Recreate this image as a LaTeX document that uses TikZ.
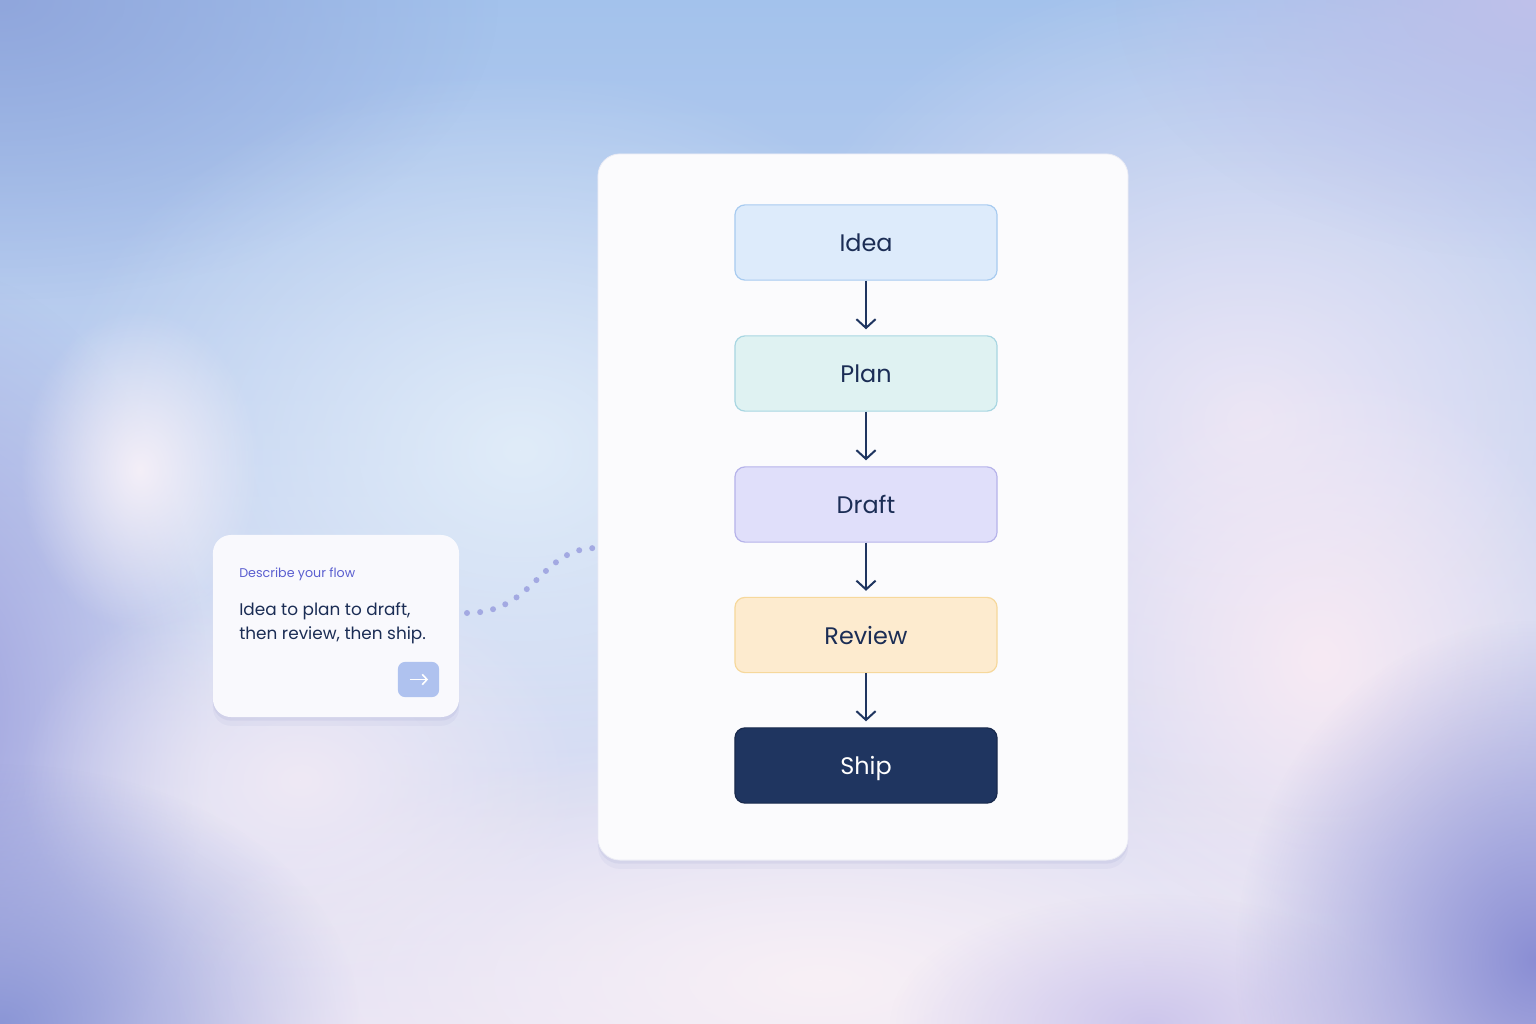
\documentclass[tikz,border=0pt]{standalone}
\usepackage{fontspec}
\setmainfont{Poppins}
\usepackage{xcolor}
\usetikzlibrary{arrows.meta, positioning, fadings}

\definecolor{ink}{HTML}{1B2D55}
\definecolor{navy}{HTML}{1F3560}
\definecolor{ideafill}{HTML}{DDEBFB}
\definecolor{idealine}{HTML}{A8CBF0}
\definecolor{planfill}{HTML}{DFF2F2}
\definecolor{planline}{HTML}{A8D6E2}
\definecolor{draftfill}{HTML}{E0DFFA}
\definecolor{draftline}{HTML}{B6B3EA}
\definecolor{reviewfill}{HTML}{FDEBCF}
\definecolor{reviewline}{HTML}{F6D89C}
\definecolor{hintcol}{HTML}{5B5FD0}
\definecolor{btnfill}{HTML}{AFC2EF}
\definecolor{dotcol}{HTML}{A3A9E2}
\definecolor{cardfill}{HTML}{F9F9FD}
\definecolor{panelfill}{HTML}{FBFBFD}
\definecolor{shadowcol}{HTML}{5A60A8}
% sky
\definecolor{skytop}{HTML}{A3C2EC}
\definecolor{skybottom}{HTML}{E6E2F4}
\definecolor{skyA}{HTML}{90A6DC}
\definecolor{skyB}{HTML}{BFC0EA}
\definecolor{skyC}{HTML}{E0ECF9}
\definecolor{skyD}{HTML}{9EA2DE}
\definecolor{skyE}{HTML}{F4EFF8}
\definecolor{skyF}{HTML}{EFE9F5}
\definecolor{skyG}{HTML}{8B96D6}
\definecolor{skyH}{HTML}{F8F0F6}
\definecolor{skyI}{HTML}{F7EAF4}
\definecolor{skyJ}{HTML}{8A8ED4}
\definecolor{skyK}{HTML}{EBE6F6}
\definecolor{skyL}{HTML}{CDC6EC}

\tikzfading[name=softblob, inner color=transparent!0, outer color=transparent!100]

\begin{document}
\begin{tikzpicture}[x=0.025cm, y=-0.025cm,
    stage/.style={draw, line width=0.3mm, rounded corners=2.5mm, minimum width=6.55cm, minimum height=1.88cm,
        text height=13pt, text depth=0pt, font=\fontsize{17}{20}\selectfont, text=ink},
    flow/.style={-{Straight Barb[length=2.2mm, width=4.8mm, line width=0.5mm]}, line width=0.5mm, draw=navy, shorten >=1.5mm},
    blob/.style={fill=#1, path fading=softblob},
    lifted/.style={preaction={fill=shadowcol, opacity=0.05, transform canvas={yshift=-2.2mm}},
        preaction={fill=shadowcol, opacity=0.08, transform canvas={yshift=-0.9mm}}}]
    \useasboundingbox (0,0) rectangle (1536,1024);

    % Sky behind everything
    \shade[top color=skytop, bottom color=skybottom] (0,0) rectangle (1536,1024);
    \fill[blob=skyA] (0,0) ellipse (500 and 300);
    \fill[blob=skyK] (1250,420) ellipse (520 and 460);
    \fill[blob=skyB] (1536,0) ellipse (420 and 260);
    \fill[blob=skyC] (520,450) ellipse (480 and 380);
    \fill[blob=skyD] (-60,720) ellipse (270 and 450);
    \fill[blob=skyE] (140,470) ellipse (120 and 160);
    \fill[blob=skyF] (300,780) ellipse (280 and 210);
    \fill[blob=skyG] (0,1024) ellipse (360 and 260);
    \fill[blob=skyH] (820,980) ellipse (650 and 250);
    \fill[blob=skyI] (1320,660) ellipse (270 and 300);
    \fill[blob=skyL] (1150,1024) ellipse (260 and 130);
    \fill[blob=skyJ] (1536,960) ellipse (300 and 340);

    % Link from the prompt card to the panel
    \coordinate (linkA) at (467,613);
    \coordinate (linkB) at (596,548);
    \draw[dotcol, line width=1.5mm, line cap=round, dash pattern=on 0pt off 3.3mm]
        (linkA) .. controls (535,613) and (540,548) .. (linkB);

    % Prompt card
    \node[lifted, fill=cardfill, rounded corners=4.5mm, minimum width=6.15cm, minimum height=4.55cm] (prompt) at (336,626) {};
    \node[anchor=base west, inner sep=0pt, text=hintcol, font=\fontsize{9}{11}\selectfont] (hint) at (239,577) {Describe your flow};
    \node[anchor=base west, inner sep=0pt, text=ink, font=\fontsize{12}{14}\selectfont] (request) at (239,615) {Idea to plan to draft,};
    \node[anchor=base west, inner sep=0pt, text=ink, font=\fontsize{12}{14}\selectfont] (request2) at (239,639) {then review, then ship.};
    \node[fill=btnfill, rounded corners=1.8mm, minimum width=1.03cm, minimum height=0.88cm] (send) at (418.5,679.5) {};
    \draw[white, line width=0.4mm, -{Straight Barb[length=1.2mm, width=2.6mm, line width=0.4mm]}]
        ([xshift=-2.2mm]send.center) -- ([xshift=2.4mm]send.center);

    % Panel holding the flow
    \node[lifted, fill=panelfill, draw=white!88!shadowcol, line width=0.2mm, rounded corners=5.5mm,
        minimum width=13.25cm, minimum height=17.65cm] (panel) at (863,507) {};

    % Steps
    \node[stage, fill=ideafill, draw=idealine] (idea) at (866,242.5) {Idea};
    \node[stage, fill=planfill, draw=planline] (plan) at (866,373.5) {Plan};
    \node[stage, fill=draftfill, draw=draftline] (draft) at (866,504.5) {Draft};
    \node[stage, fill=reviewfill, draw=reviewline] (review) at (866,635) {Review};
    \node[stage, fill=navy, draw=navy!80!black, text=white] (ship) at (866,765.5) {Ship};

    % Arrows
    \path[flow] (idea) edge (plan);
    \path[flow] (plan) edge (draft);
    \path[flow] (draft) edge (review);
    \path[flow] (review) edge (ship);
\end{tikzpicture}
\end{document}
